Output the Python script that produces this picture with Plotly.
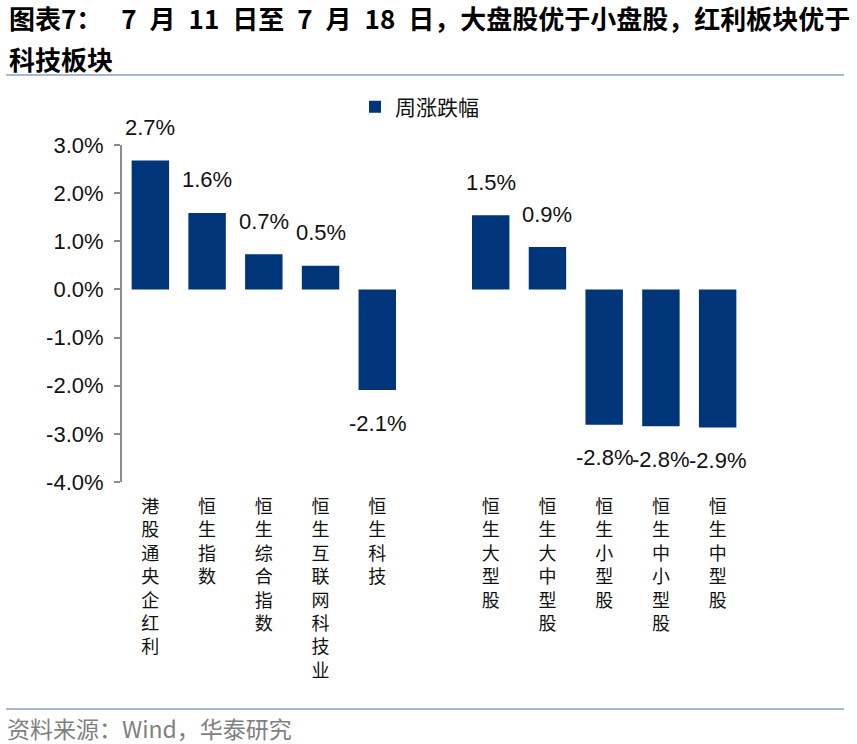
import plotly.graph_objects as go

# data (weekly change, %)
categories = ['港股通央企红利', '恒生指数', '恒生综合指数', '恒生互联网科技业', '恒生科技', '',
              '恒生大型股', '恒生大中型股', '恒生小型股', '恒生中小型股', '恒生中型股']
weekly_chg = [2.68, 1.59, 0.73, 0.49, -2.09, None, 1.54, 0.88, -2.81, -2.84, -2.87]
y_ticks = [3, 2, 1, 0, -1, -2, -3, -4]
y_range = [-4, 3]

SP = '\u2002'
title_1 = ('图表7：' + SP + ' 7' + SP + '月' + SP + '11' + SP + '日至' + SP + '7' + SP + '月'
           + SP + '18' + SP + '日，大盘股优于小盘股，红利板块优于')
title_2 = '科技板块'
source = '资料来源：Wind，华泰研究'
series_name = '周涨跌幅'

BAR = '#00357A'
AXIS = '#8C8C8C'
W, H = 857, 744
L, R, T, B = 122, 111, 145, 262

x_idx = list(range(len(categories)))
tick_text = ['<br>'.join(list(c)) for c in categories]

def px(x):
    return (x - L) / (W - L - R)

def py(y):
    return (H - B - y) / (H - T - B)

fig = go.Figure()
fig.add_trace(go.Bar(x=x_idx, y=weekly_chg, name=series_name,
                     marker=dict(color=BAR, line=dict(width=0)), width=0.66))

# value labels
for i, v in enumerate(weekly_chg):
    if v is None:
        continue
    fig.add_annotation(x=i, y=v, text='%.1f%%' % v, showarrow=False,
                       yshift=33 if v > 0 else -33,
                       font=dict(family='Liberation Sans, Arial', size=22, color='#111111'))

# title, separators and source
fig.add_annotation(xref='paper', yref='paper', x=px(7), y=py(17), xanchor='left', yanchor='middle',
                   text='<b>%s</b>' % title_1, showarrow=False,
                   font=dict(family='Noto Sans CJK SC', size=26, color='#000000'))
fig.add_annotation(xref='paper', yref='paper', x=px(7), y=py(58), xanchor='left', yanchor='middle',
                   text='<b>%s</b>' % title_2, showarrow=False,
                   font=dict(family='Noto Sans CJK SC', size=26, color='#000000'))
fig.add_annotation(xref='paper', yref='paper', x=px(5), y=py(728), xanchor='left', yanchor='middle',
                   text=source, showarrow=False,
                   font=dict(family='Noto Sans CJK SC', size=23, color='#808080'))
for yy in [75, 709]:
    fig.add_shape(type='line', xref='paper', yref='paper', x0=px(6), x1=px(844), y0=py(yy), y1=py(yy),
                  line=dict(color='#A7B9CF', width=2))

fig.update_layout(
    width=W, height=H,
    margin=dict(l=L, r=R, t=T, b=B),
    plot_bgcolor='white', paper_bgcolor='white',
    showlegend=True,
    legend=dict(x=px(355), y=py(107), xanchor='left', yanchor='middle', orientation='h',
                font=dict(family='Noto Sans CJK SC', size=21, color='#111111'),
                bgcolor='rgba(0,0,0,0)'),
    xaxis=dict(range=[-0.5, len(categories) - 0.5], tickvals=x_idx, ticktext=tick_text,
               showline=False, showgrid=False, zeroline=False, ticks='',
               ticklabelstandoff=12,
               tickfont=dict(family='Noto Sans CJK SC', size=18, color='#111111')),
    # zero-line axis carrying the category separator ticks
    xaxis2=dict(overlaying='x', anchor='free', side='bottom',
                position=(0 - y_range[0]) / (y_range[1] - y_range[0]),
                range=[-0.5, len(categories) - 0.5],
                tickvals=[i + 0.5 for i in x_idx], showticklabels=False,
                showline=True, linecolor=AXIS, linewidth=2,
                ticks='outside', ticklen=7, tickwidth=2, tickcolor=AXIS,
                showgrid=False, zeroline=False),
    yaxis=dict(range=y_range, tickvals=y_ticks, ticktext=['%.1f%%' % t for t in y_ticks],
               showline=True, linecolor=AXIS, linewidth=2,
               ticks='outside', ticklen=6, tickwidth=2, tickcolor=AXIS,
               ticklabelstandoff=6,
               showgrid=False, zeroline=False,
               tickfont=dict(family='Liberation Sans, Arial', size=22, color='#111111')),
)

# page body has an 8px default margin; drop it so the figure sits at 0,0
fig.write_html('out.html', config={'displayModeBar': False},
               post_script="document.body.style.margin='0';")
